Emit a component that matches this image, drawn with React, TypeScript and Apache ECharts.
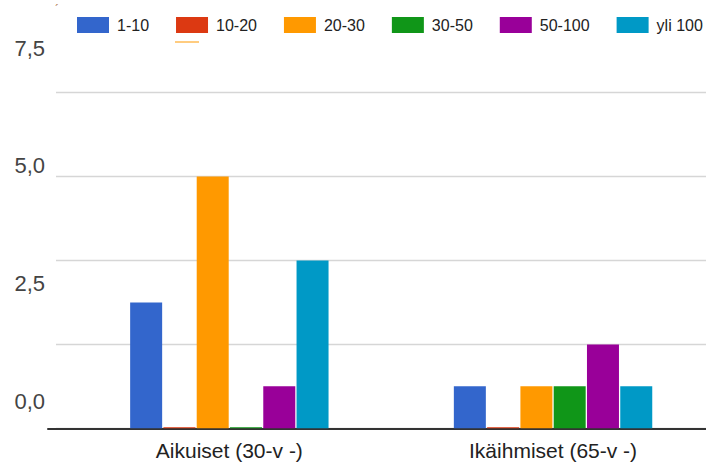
import React, { useEffect, useRef } from "react";
import * as echarts from "echarts";

const categories = ["Aikuiset (30-v -)", "Ikäihmiset (65-v -)"];
const seriesNames = ["1-10", "10-20", "20-30", "30-50", "50-100", "yli 100"];
const s1_10 = [1.5, 0.5];
const s10_20 = [0, 0];
const s20_30 = [3, 0.5];
const s30_50 = [0, 0.5];
const s50_100 = [0.5, 1];
const sYli100 = [2, 0.5];
const seriesValues = [s1_10, s10_20, s20_30, s30_50, s50_100, sYli100];
const colors = ["#3366cc", "#dc3912", "#ff9900", "#109618", "#990099", "#0099c6"];
const yTickLabels = ["0,0", "2,5", "5,0", "7,5"];

const FONT = 'Arial, "Liberation Sans", sans-serif';

export default function App() {
  const ref = useRef<HTMLDivElement>(null);
  useEffect(() => {
    if (!ref.current) return;
    const chart = echarts.init(ref.current, undefined, { renderer: "svg" });
    const top = 92.7;
    const bottom = 41.7;
    chart.setOption({
      animation: false,
      textStyle: { fontFamily: FONT },
      legend: {
        data: seriesNames,
        left: 77,
        top: 17,
        padding: 0,
        width: 700,
        itemWidth: 32,
        itemHeight: 16,
        itemGap: 27,
        icon: "rect",
        textStyle: { fontSize: 16, color: "#222", fontFamily: FONT, padding: [0, 0, 0, 3] },
      },
      grid: [
        { left: 56, right: 0, top, bottom, outerBoundsMode: "none" },
        { left: 67.5, width: 647.4, top, bottom, outerBoundsMode: "none" },
        { left: 48, right: 0, top, bottom, outerBoundsMode: "none" },
        { left: 53, right: 0, top: 48, bottom: 69, outerBoundsMode: "none" },
      ],
      xAxis: [
        { type: "category", gridIndex: 0, data: categories, show: false },
        {
          type: "category",
          gridIndex: 1,
          data: categories,
          axisLine: { show: false },
          axisTick: { show: false },
          axisLabel: { fontSize: 21, color: "#222", margin: 12, fontFamily: FONT },
        },
        {
          type: "category",
          gridIndex: 2,
          data: categories,
          axisLine: { show: true, lineStyle: { color: "#333", width: 2 } },
          axisTick: { show: false },
          axisLabel: { show: false },
        },
        { type: "category", gridIndex: 3, data: categories, show: false },
      ],
      yAxis: [
        {
          type: "value",
          gridIndex: 0,
          min: 0,
          max: 4,
          interval: 1,
          axisLabel: { show: false },
          axisLine: { show: false },
          axisTick: { show: false },
          splitLine: { show: true, lineStyle: { color: "#d6d6d6", width: 1.3 } },
        },
        { type: "value", gridIndex: 1, min: 0, max: 4, interval: 1, show: false },
        { type: "value", gridIndex: 2, min: 0, max: 4, interval: 1, show: false },
        {
          type: "value",
          gridIndex: 3,
          min: 0,
          max: 7.5,
          interval: 2.5,
          axisLine: { show: false },
          axisTick: { show: false },
          splitLine: { show: false },
          axisLabel: {
            fontSize: 22,
            color: "#444",
            margin: 8,
            fontFamily: FONT,
            formatter: (v: number) => {
              const idx = Math.round(v / 2.5);
              return yTickLabels[idx] ?? v.toFixed(1).replace(".", ",");
            },
          },
        },
      ],
      series: seriesNames.map((name, i) => ({
        name,
        type: "bar",
        xAxisIndex: 1,
        yAxisIndex: 1,
        data: seriesValues[i],
        barWidth: 32,
        barGap: "4%",
        barMinHeight: 1,
        itemStyle: { color: colors[i] },
      })),
      graphic: [
        {
          type: "text",
          left: 55,
          top: 4,
          style: { text: "´", fontSize: 12, fill: "#b07a50", fontFamily: FONT },
        },
        {
          type: "line",
          shape: { x1: 175, y1: 42, x2: 199, y2: 42 },
          style: { stroke: "#ff9900", lineWidth: 1 },
        },
      ],
    });
    return () => chart.dispose();
  }, []);
  return (
    <div
      ref={ref}
      style={{ position: "fixed", left: 0, top: 0, width: 706, height: 470, background: "#fff" }}
    />
  );
}
